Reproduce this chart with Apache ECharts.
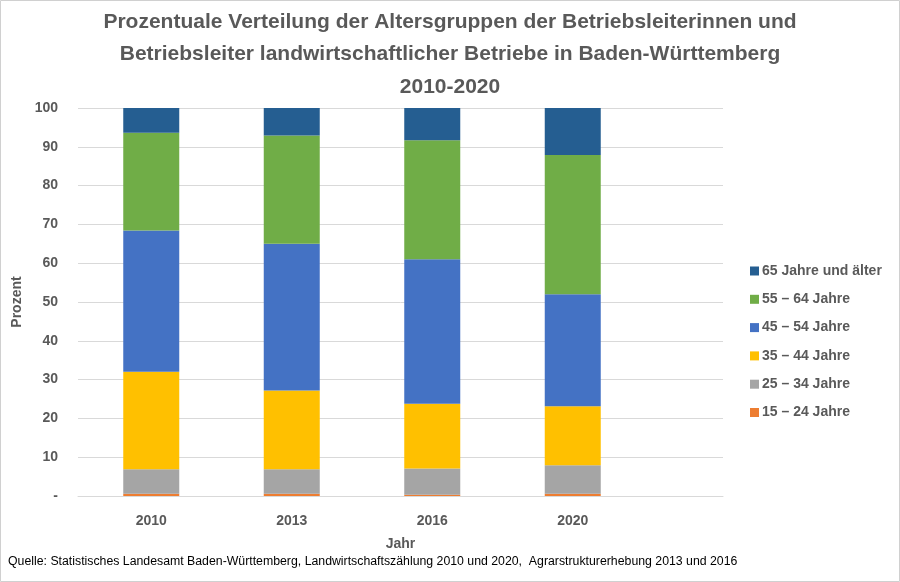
<!DOCTYPE html>
<html><head><meta charset="utf-8">
<script src="https://cdn.jsdelivr.net/npm/echarts@6/dist/echarts.min.js"></script>
<style>html,body{margin:0;padding:0;background:#fff}#c{width:900px;height:582px}</style>
</head><body><div id="c"></div>
<script>
const categories = ['2010','2013','2016','2020'];
const s15_24 = [0.6, 0.6, 0.3, 0.6];
const s25_34 = [6.3, 6.3, 6.8, 7.3];
const s35_44 = [25.1, 20.3, 16.7, 15.2];
const s45_54 = [36.4, 37.8, 37.2, 28.9];
const s55_64 = [25.2, 27.9, 30.7, 35.9];
const s65 = [6.4, 7.1, 8.3, 12.1];
const seriesNames = ['15 – 24 Jahre','25 – 34 Jahre','35 – 44 Jahre','45 – 54 Jahre','55 – 64 Jahre','65 Jahre und älter'];
const yTicks = {min:0, max:100, interval:10};
const titleLines = ['Prozentuale Verteilung der Altersgruppen der Betriebsleiterinnen und','Betriebsleiter landwirtschaftlicher Betriebe in Baden-Württemberg','2010-2020'];

const font = "'Liberation Sans Narrow','Liberation Sans',Arial,sans-serif";
const grey = '#595959';
const colors = ['#ED7D31','#A5A5A5','#FFC000','#4472C4','#70AD47','#255E91'];
const dataSets = [s15_24, s25_34, s35_44, s45_54, s55_64, s65];

const chart = echarts.init(document.getElementById('c'));
chart.setOption({
  animation:false,
  textStyle:{fontFamily:font},
  legend:{
    orient:'vertical', left:745, top:259,
    itemWidth:9, itemHeight:9, itemGap:14.3,
    icon:'rect',
    data:seriesNames.slice().reverse(),
    textStyle:{fontFamily:font, fontSize:14, fontWeight:'bold', color:grey, padding:[0,0,0,-2]}
  },
  grid:[
    {left:81, right:257, top:108, bottom:86},
    {left:78, right:177, top:108, bottom:86}
  ],
  xAxis:[
    {type:'category', gridIndex:0, data:categories,
     axisLine:{show:false}, axisTick:{show:false},
     axisLabel:{fontFamily:font, fontSize:14, fontWeight:'bold', color:grey, margin:18}},
    {type:'category', gridIndex:1, data:[''],
     axisLine:{show:true, lineStyle:{color:'#d9d9d9'}}, axisTick:{show:false}, axisLabel:{show:false},
     name:'Jahr', nameLocation:'middle', nameGap:41,
     nameTextStyle:{fontFamily:font, fontSize:14, fontWeight:'bold', color:grey}}
  ],
  yAxis:[
    {type:'value', gridIndex:0, min:yTicks.min, max:yTicks.max, interval:yTicks.interval, show:false},
    {type:'value', gridIndex:1, min:yTicks.min, max:yTicks.max, interval:yTicks.interval,
     axisLine:{show:false}, axisTick:{show:false},
     splitLine:{lineStyle:{color:'#d9d9d9'}},
     axisLabel:{fontFamily:font, fontSize:14, fontWeight:'bold', color:grey, margin:20,
       formatter:v=> v===0 ? '-' : String(v)},
     name:'Prozent', nameLocation:'middle', nameGap:52, nameRotate:90,
     nameTextStyle:{fontFamily:font, fontSize:14, fontWeight:'bold', color:grey}}
  ],
  graphic:[
    {type:'rect', shape:{x:0.5,y:0.5,width:899,height:581}, style:{fill:'none', stroke:'#d0d0d0', lineWidth:1}, silent:true},
    ...titleLines.map((t,i)=>({type:'text', x:450, y:22+i*32.5, style:{text:t, textAlign:'center', textVerticalAlign:'middle', font:"bold 21px "+font, fill:grey}})),
    {type:'text', left:8, top:556, style:{text:'Quelle: Statistisches Landesamt Baden-Württemberg, Landwirtschaftszählung 2010 und 2020,  Agrarstrukturerhebung 2013 und 2016', font:"12.3px "+font, fill:'#000'}}
  ],
  series: seriesNames.map((n,i)=>({
    name:n, type:'bar', stack:'total', xAxisIndex:0, yAxisIndex:0,
    barWidth:56, data:dataSets[i], itemStyle:{color:colors[i]}
  }))
});
</script></body></html>
